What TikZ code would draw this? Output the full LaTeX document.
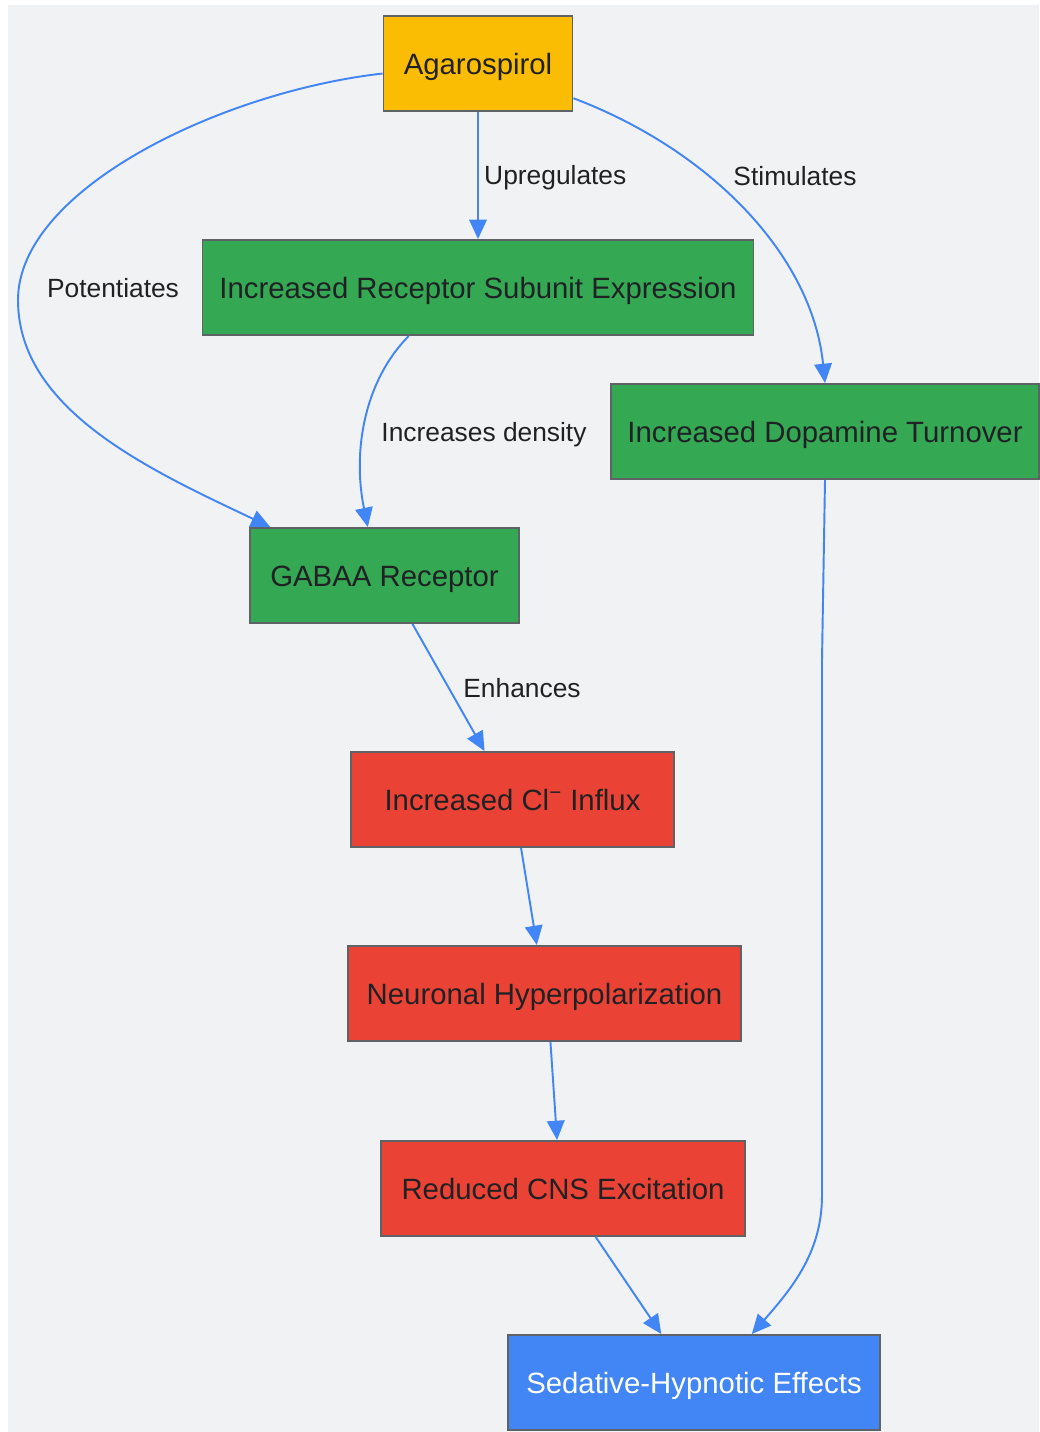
\documentclass[tikz,border=0pt]{standalone}
\usepackage{fontspec}
\setmainfont{Liberation Sans}
\usetikzlibrary{arrows.meta}
\definecolor{bgcol}{HTML}{F1F2F4}
\definecolor{boxline}{HTML}{5F6368}
\definecolor{txtcol}{HTML}{202124}
\definecolor{drugfill}{HTML}{FBBC04}
\definecolor{targetfill}{HTML}{34A853}
\definecolor{effectfill}{HTML}{EA4335}
\definecolor{outfill}{HTML}{4285F4}
\definecolor{arrowcol}{HTML}{4285F4}
\tikzset{
  box/.style = {draw=boxline, line width=1.1pt, inner sep=0pt,
    minimum height=95*0.02cm, text=txtcol, text height=12pt, text depth=0pt,
    font=\fontsize{16.7}{20}\selectfont},
  drug/.style = {box, fill=drugfill},
  target/.style = {box, fill=targetfill},
  effect/.style = {box, fill=effectfill},
  outcome/.style = {box, fill=outfill, text=white},
  lbl/.style = {text=txtcol, text height=10.7pt, text depth=0pt,
    font=\fontsize{15}{18}\selectfont},
  conn/.style = {->, draw=arrowcol, line width=1.1pt}
}

\begin{document}
\begin{tikzpicture}[
        x=0.02cm, y=-0.02cm,
        >={Triangle[length=11pt,width=10pt]}
    ]
    \useasboundingbox (0,0) rectangle (1039,1432);
    \fill[bgcol] (8,5) rectangle (1039,1432);

    % nodes
    \node [drug, minimum width=189*0.02cm] (agaro) at (478,63.5) {Agarospirol};
    \node [target, minimum width=551*0.02cm] (subunit) at (478,287.5) {Increased Receptor Subunit Expression};
    \node [target, minimum width=428*0.02cm] (dopa) at (825,431.5) {Increased Dopamine Turnover};
    \node [target, minimum width=269*0.02cm] (gabaa) at (384.5,575.5) {GABAA Receptor};
    \node [effect, minimum width=323*0.02cm] (chloride) at (512.5,799.5) {Increased Cl\textsuperscript{\textminus} Influx};
    \node [effect, minimum width=393*0.02cm] (hyperpol) at (544.5,993.5) {Neuronal Hyperpolarization};
    \node [effect, minimum width=364*0.02cm] (cns) at (563,1188.5) {Reduced CNS Excitation};
    \node [outcome, minimum width=372*0.02cm] (sedation) at (694,1382.5) {Sedative-Hypnotic Effects};

    % connectors
    \draw [conn] (agaro.south) -- node [lbl, right, inner sep=3pt] (lupreg) {Upregulates} (subunit.north);
    \draw [conn] (agaro.340) .. controls (710,150) and (812,255) .. (dopa.north);
    \draw [conn] (agaro.186) .. controls (220,92) and (18,190) .. (18,300)
        .. controls (18,410) and (150,470) .. (gabaa.157.5);
    \draw [conn] (subunit.215) .. controls (365,380) and (352,450) .. (gabaa.109);
    \draw [conn] (gabaa.300) -- (chloride.120);
    \draw [conn] (chloride.280) -- (hyperpol.99);
    \draw [conn] (hyperpol.277) -- (cns.97);
    \draw [conn] (cns.304) -- (sedation.124);
    \draw [conn] (dopa.south) -- (822,660) -- (822,1195)
        .. controls (822,1250) and (795,1285) .. (sedation.40);

    % edge labels
    \node [lbl] (lstim) at (795,176) {Stimulates};
    \node [lbl] (lpot) at (113,288) {Potentiates};
    \node [lbl] (ldens) at (484,432) {Increases density};
    \node [lbl] (lenh) at (522,688) {Enhances};
\end{tikzpicture}
\end{document}
